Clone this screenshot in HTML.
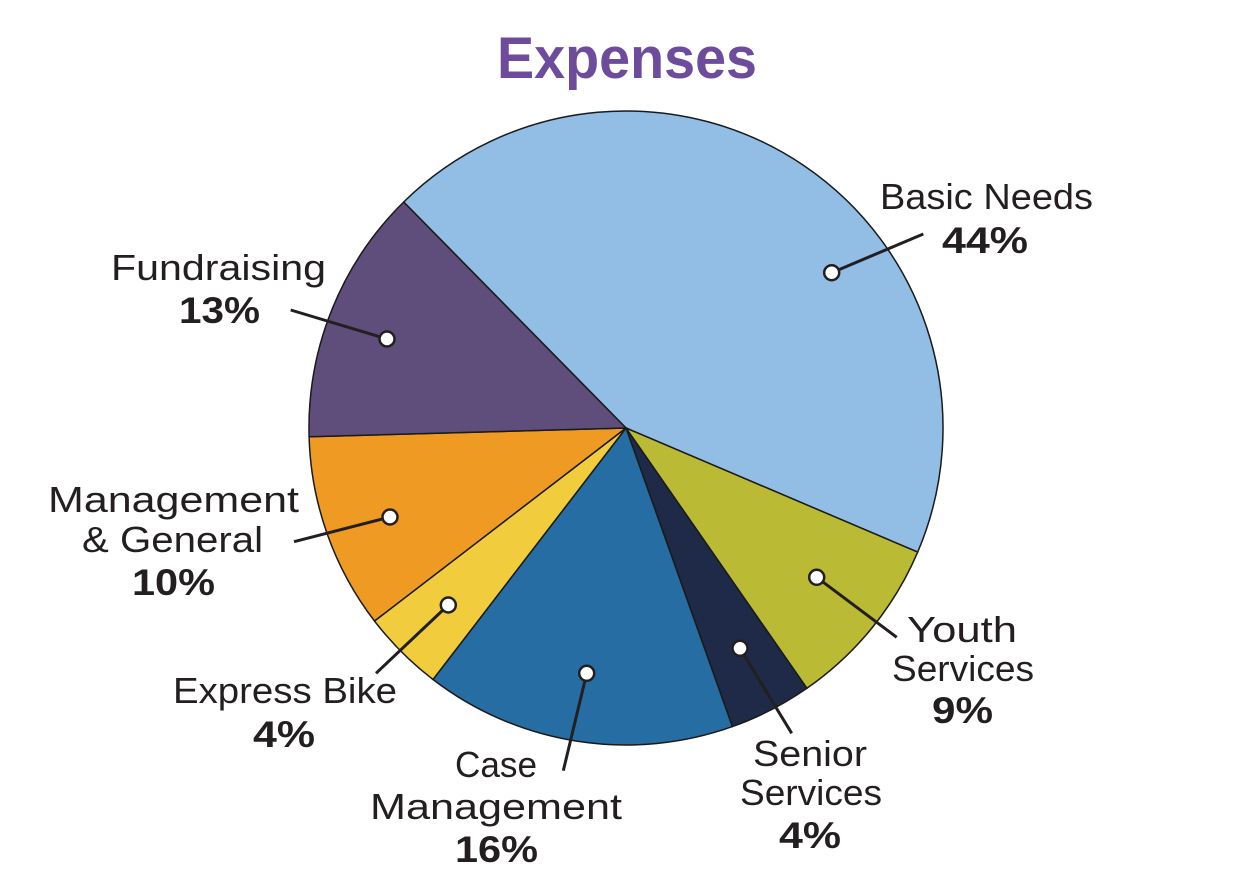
<!DOCTYPE html>
<html><head><meta charset="utf-8"><style>
html,body{margin:0;padding:0;background:#fff;}
svg{display:block;}
text{font-family:"Liberation Sans",sans-serif;fill:#231F20;}
.b{font-weight:bold;}
</style></head><body>
<svg width="1255" height="888" viewBox="0 0 1255 888" xmlns="http://www.w3.org/2000/svg">
<text x="497" y="78" font-size="58" class="b" style="fill:#6E4C9C" textLength="260" lengthAdjust="spacingAndGlyphs">Expenses</text>
<g stroke="#1a1a1a" stroke-width="1.5" stroke-linejoin="round">
<path d="M626,428 L403.7,202.0 A317,317 0 0 1 917.7,552.1 Z" fill="#92BEE5"/>
<path d="M626,428 L917.7,552.1 A317,317 0 0 1 806.9,688.3 Z" fill="#BBBA35"/>
<path d="M626,428 L806.9,688.3 A317,317 0 0 1 732.4,726.6 Z" fill="#1E2A47"/>
<path d="M626,428 L732.4,726.6 A317,317 0 0 1 433.0,679.5 Z" fill="#266DA3"/>
<path d="M626,428 L433.0,679.5 A317,317 0 0 1 374.5,621.0 Z" fill="#F1CD3D"/>
<path d="M626,428 L374.5,621.0 A317,317 0 0 1 309.1,436.8 Z" fill="#EF9A22"/>
<path d="M626,428 L309.1,436.8 A317,317 0 0 1 403.7,202.0 Z" fill="#5F4E7B"/>
</g>
<g stroke="#231F20" stroke-width="3" stroke-linecap="butt">
<line x1="831.7" y1="272.7" x2="923.3" y2="234"/>
<line x1="387" y1="339" x2="290.7" y2="310"/>
<line x1="390" y1="517" x2="294" y2="541.7"/>
<line x1="448.3" y1="605" x2="376" y2="673.3"/>
<line x1="586.7" y1="673.3" x2="563.3" y2="770.7"/>
<line x1="740" y1="648.3" x2="791.7" y2="733.3"/>
<line x1="816.7" y1="577.3" x2="896.7" y2="637.3"/>
</g>
<g fill="#fff" stroke="#231F20" stroke-width="2.5">
<circle cx="831.7" cy="272.7" r="7.5"/>
<circle cx="387" cy="339" r="7.5"/>
<circle cx="390" cy="517" r="7.5"/>
<circle cx="448.3" cy="605" r="7.5"/>
<circle cx="586.7" cy="673.3" r="7.5"/>
<circle cx="740" cy="648.3" r="7.5"/>
<circle cx="816.7" cy="577.3" r="7.5"/>
</g>
<g font-size="36">
<text x="880" y="209" textLength="213" lengthAdjust="spacingAndGlyphs">Basic Needs</text>
<text x="942" y="253" class="b" font-size="37" textLength="86" lengthAdjust="spacingAndGlyphs">44%</text>

<text x="111" y="280" textLength="215" lengthAdjust="spacingAndGlyphs">Fundraising</text>
<text x="179" y="323" class="b" font-size="37" textLength="81" lengthAdjust="spacingAndGlyphs">13%</text>

<text x="48" y="512" textLength="251" lengthAdjust="spacingAndGlyphs">Management</text>
<text x="82" y="552" textLength="181" lengthAdjust="spacingAndGlyphs">&amp; General</text>
<text x="132" y="595" class="b" font-size="37" textLength="83" lengthAdjust="spacingAndGlyphs">10%</text>

<text x="173" y="703" textLength="224" lengthAdjust="spacingAndGlyphs">Express Bike</text>
<text x="253" y="747" class="b" font-size="37" textLength="62" lengthAdjust="spacingAndGlyphs">4%</text>

<text x="455" y="777" textLength="82" lengthAdjust="spacingAndGlyphs">Case</text>
<text x="370" y="819" textLength="252" lengthAdjust="spacingAndGlyphs">Management</text>
<text x="455" y="862" class="b" font-size="37" textLength="83" lengthAdjust="spacingAndGlyphs">16%</text>

<text x="753" y="766" textLength="114" lengthAdjust="spacingAndGlyphs">Senior</text>
<text x="740" y="805" textLength="142" lengthAdjust="spacingAndGlyphs">Services</text>
<text x="779" y="848" class="b" font-size="37" textLength="62" lengthAdjust="spacingAndGlyphs">4%</text>

<text x="907" y="642" textLength="110" lengthAdjust="spacingAndGlyphs">Youth</text>
<text x="892" y="681" textLength="142" lengthAdjust="spacingAndGlyphs">Services</text>
<text x="932" y="723" class="b" font-size="37" textLength="61" lengthAdjust="spacingAndGlyphs">9%</text>
</g>
</svg>
</body></html>
